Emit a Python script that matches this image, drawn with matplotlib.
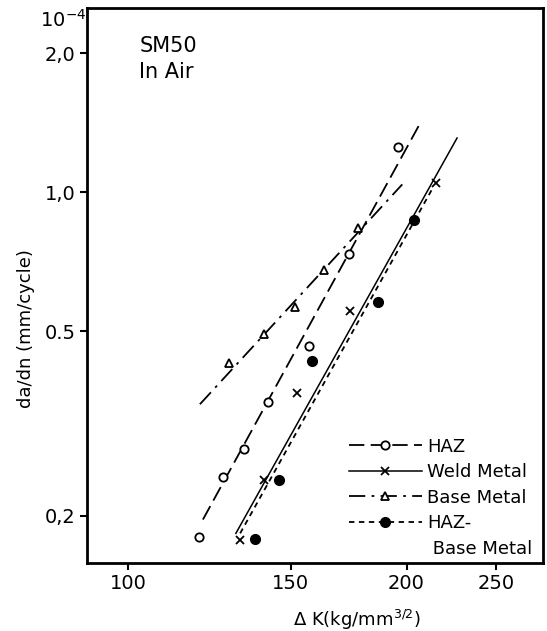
import matplotlib
matplotlib.use("Agg")
import matplotlib.pyplot as plt
from matplotlib.lines import Line2D
from matplotlib.ticker import FixedLocator, NullLocator

# measured points (delta K in kg/mm^3/2, da/dn in 1e-4 mm/cycle)
haz_dk = [119.3, 126.7, 133.5, 141.7, 156.9, 173.4, 195.8]
haz_rate = [0.180, 0.242, 0.279, 0.352, 0.465, 0.735, 1.25]
weld_dk = [132.2, 140.3, 152.3, 173.8, 215.3]
weld_rate = [0.177, 0.239, 0.368, 0.553, 1.046]
base_dk = [128.6, 140.3, 151.6, 162.9, 177.3]
base_rate = [0.427, 0.494, 0.565, 0.679, 0.836]
hb_dk = [137.1, 145.6, 158.1, 186.3, 203.9]
hb_rate = [0.178, 0.239, 0.431, 0.579, 0.870]

# fitted lines (end points)
haz_fit_dk = [120.5, 206.9]
haz_fit_rate = [0.196, 1.41]
weld_fit_dk = [130.8, 226.8]
weld_fit_rate = [0.183, 1.31]
base_fit_dk = [119.6, 197.9]
base_fit_rate = [0.348, 1.04]
hb_fit_dk = [132.2, 213.7]
hb_fit_rate = [0.183, 1.025]

x_ticks = [100, 150, 200, 250]
y_ticks = [0.2, 0.5, 1.0, 2.0]
y_tick_labels = ["0,2", "0.5", "1,0", "2,0"]

haz_dash = (8.5, 3.5)
base_dash = (9, 3.5, 1.5, 3.5)
hb_dash = (3, 2.5)

fig = plt.figure(figsize=(5.47, 6.31), dpi=100)
ax = fig.add_axes([0.159, 0.108, 0.834, 0.879])
ax.set_xscale("log")
ax.set_yscale("log")

# fit lines
ax.plot(haz_fit_dk, haz_fit_rate, color="black", lw=1.3, dashes=haz_dash)
ax.plot(weld_fit_dk, weld_fit_rate, color="black", lw=1.1)
ax.plot(base_fit_dk, base_fit_rate, color="black", lw=1.3, dashes=base_dash)
ax.plot(hb_fit_dk, hb_fit_rate, color="black", lw=1.3, dashes=hb_dash)

# data points
ax.plot(haz_dk, haz_rate, "o", ms=6, mfc="white", mec="black", mew=1.3, ls="none")
ax.plot(weld_dk, weld_rate, "x", ms=6, color="black", mew=1.3, ls="none")
ax.plot(base_dk, base_rate, "^", ms=6, mfc="white", mec="black", mew=1.3, ls="none")
ax.plot(hb_dk, hb_rate, "o", ms=7, color="black", ls="none")

ax.set_xlim(90.3, 281)
ax.set_ylim(0.158, 2.5)

ax.xaxis.set_major_locator(FixedLocator(x_ticks))
ax.xaxis.set_minor_locator(NullLocator())
ax.set_xticklabels([str(t) for t in x_ticks])
ax.yaxis.set_major_locator(FixedLocator(y_ticks))
ax.yaxis.set_minor_locator(NullLocator())
ax.set_yticklabels(y_tick_labels)
ax.tick_params(axis="both", direction="out", length=5, width=1.5, labelsize=14, pad=3)

for s in ax.spines.values():
    s.set_linewidth(2)

fig.text(0.653, 0.017, r"$\Delta$ K(kg/mm$^{3/2}$)", fontsize=13,
         ha="center", va="center")
fig.text(0.047, 0.48, "da/dn (mm/cycle)", rotation=90, fontsize=13,
         ha="center", va="center")
fig.text(0.158, 0.968, r"10$^{-4}$", fontsize=14, ha="right", va="center")

ax.text(0.115, 0.95, "SM50\nIn Air", transform=ax.transAxes, fontsize=15,
        ha="left", va="top", linespacing=1.4)

handles = [
    Line2D([], [], color="black", lw=1.3, dashes=haz_dash, marker="o",
           ms=6, mfc="white", mec="black", mew=1.3),
    Line2D([], [], color="black", lw=1.1, marker="x", ms=6, mew=1.3),
    Line2D([], [], color="black", lw=1.3, dashes=base_dash, marker="^",
           ms=6, mfc="white", mec="black", mew=1.3),
    Line2D([], [], color="black", lw=1.3, dashes=hb_dash, marker="o", ms=7),
    Line2D([], [], color="none", lw=0),
]
labels = ["HAZ", "Weld Metal", "Base Metal", "HAZ-", " Base Metal"]
ax.legend(handles, labels, loc="upper left", bbox_to_anchor=(0.575, 0.226),
          frameon=False, fontsize=13, handlelength=4.0, handletextpad=0.3,
          labelspacing=0.42, borderpad=0, borderaxespad=0, numpoints=1)

fig.savefig("out.png", dpi=100)
